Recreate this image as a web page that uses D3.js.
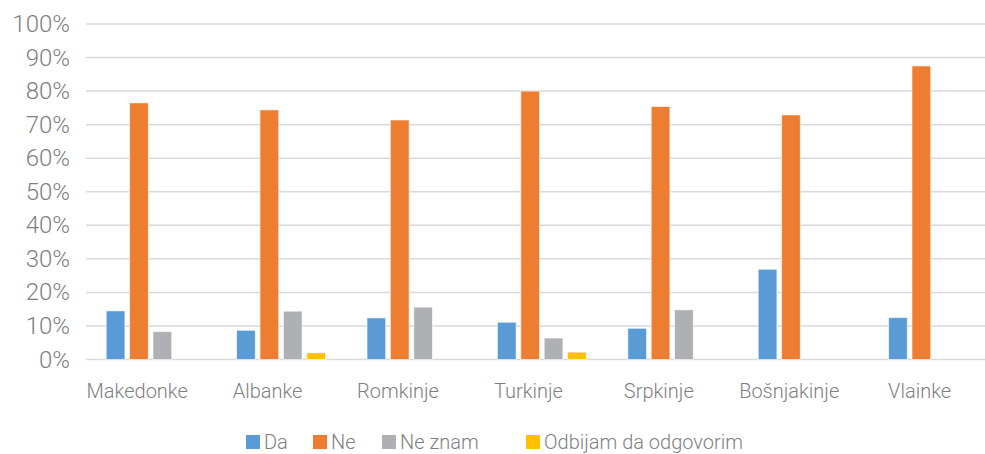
<!DOCTYPE html>
<html>
<head>
<meta charset="utf-8">
<script src="https://cdn.jsdelivr.net/npm/d3@7"></script>
<style>
  html, body { margin: 0; padding: 0; background: #fff; }
  svg { display: block; font-family: Roboto, "Noto Sans", sans-serif; font-weight: 300; }
</style>
</head>
<body>
<div id="chart"></div>
<script>
const categories = ["Makedonke", "Albanke", "Romkinje", "Turkinje", "Srpkinje", "Bošnjakinje", "Vlainke"];
const seriesNames = ["Da", "Ne", "Ne znam", "Odbijam da odgovorim"];
const da = [14.5, 8.7, 12.4, 11.1, 9.3, 26.9, 12.5];
const ne = [76.5, 74.4, 71.4, 80.0, 75.4, 72.9, 87.5];
const neZnam = [8.3, 14.4, 15.6, 6.4, 14.8, 0, 0];
const odbijam = [0, 2.0, 0, 2.2, 0, 0, 0];
const yTicks = [0, 10, 20, 30, 40, 50, 60, 70, 80, 90, 100];

const colors = ["#5b9bd5", "#ed7d31", "#afb0b3", "#ffc000"];
const seriesValues = [da, ne, neZnam, odbijam];

const width = 985, height = 454;
const gridLeft = 86, gridRight = 985;

const svg = d3.select("#chart").append("svg")
  .attr("width", width)
  .attr("height", height);

const y = d3.scaleLinear().domain([0, 100]).range([359.5, 24]);

const x = d3.scaleBand()
  .domain(categories)
  .range([72, 72 + 7 * 130.4]);

// bars sit slightly right of the category centre, like the source
const xSub = d3.scaleBand()
  .domain(seriesNames)
  .range([-31, 57.9])
  .paddingInner(0.2);

// gridlines
svg.append("g")
  .selectAll("line")
  .data(yTicks)
  .join("line")
  .attr("x1", gridLeft)
  .attr("x2", gridRight)
  .attr("y1", d => y(d))
  .attr("y2", d => y(d))
  .attr("stroke", "#d9d9d9")
  .attr("stroke-width", 1.5);

// y labels
svg.append("g")
  .selectAll("text")
  .data(yTicks)
  .join("text")
  .attr("x", 70)
  .attr("y", d => y(d))
  .attr("text-anchor", "end")
  .attr("dominant-baseline", "central")
  .attr("font-size", 24)
  .attr("fill", "#808080")
  .text(d => d + "%");

// bars
const rows = [];
categories.forEach((c, i) => {
  seriesNames.forEach((s, j) => {
    const v = seriesValues[j][i];
    if (v > 0) rows.push({ cat: c, series: s, value: v, color: colors[j] });
  });
});

svg.append("g")
  .selectAll("rect")
  .data(rows)
  .join("rect")
  .attr("x", d => x(d.cat) + x.bandwidth() / 2 + xSub(d.series))
  .attr("y", d => y(d.value))
  .attr("width", xSub.bandwidth())
  .attr("height", d => y(0) - y(d.value))
  .attr("fill", d => d.color)
  .attr("stroke", "#fff")
  .attr("stroke-opacity", 0.6)
  .attr("stroke-width", 1);

// category labels
svg.append("g")
  .selectAll("text")
  .data(categories)
  .join("text")
  .attr("x", d => x(d) + x.bandwidth() / 2)
  .attr("y", 398)
  .attr("text-anchor", "middle")
  .attr("font-size", 20)
  .attr("fill", "#808080")
  .text(d => d);

// legend
const legendX = [246, 313, 382, 526];
const legend = svg.append("g")
  .selectAll("g")
  .data(seriesNames)
  .join("g")
  .attr("transform", (d, i) => `translate(${legendX[i]},435)`);

legend.append("rect")
  .attr("width", 14)
  .attr("height", 14)
  .attr("fill", (d, i) => colors[i]);

legend.append("text")
  .attr("x", 18)
  .attr("y", 14)
  .attr("font-size", 20)
  .attr("fill", "#808080")
  .text(d => d);
</script>
</body>
</html>
